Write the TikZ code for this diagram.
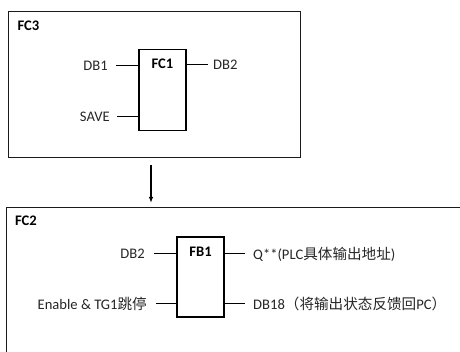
\documentclass[tikz,border=0pt]{standalone}
\usepackage{fontspec}
\setmainfont{Carlito}
\newfontfamily\cjk{Noto Sans CJK SC}
\usetikzlibrary{arrows.meta, positioning}
\definecolor{pintext}{HTML}{262626}
\definecolor{frameline}{HTML}{1A1A1A}

\begin{document}
\begin{tikzpicture}[x=1pt, y=-1pt,
    framebox/.style={rectangle, draw=frameline, line width=1pt, inner sep=0pt},
    blockbox/.style={rectangle, draw=black, line width=1.6pt, inner sep=0pt, minimum width=47pt, minimum height=81pt},
    pinlabel/.style={text=pintext, inner sep=0pt},
    pinline/.style={draw=black, line width=1pt},
    every node/.style={font=\fontsize{14.6}{16}\selectfont}
]
\useasboundingbox (0,0) rectangle (460,352);
\clip (0,0) rectangle (460,352);

% Upper frame
\node[framebox, minimum width=292pt, minimum height=146pt] (fcthree) at (154,85) {};
\node[font=\fontsize{14.6}{16}\selectfont\bfseries, anchor=north west] (fcthreetitle) at (14,17.5) {FC3};

% FC1 block
\node[blockbox] (fcone) at (162.5,90) {};
\node[font=\fontsize{14.6}{16}\selectfont\bfseries, anchor=north] (fconetitle) at ([yshift=-7pt]fcone.north) {FC1};

\coordinate (fconeinA) at (fcone.west |- 0,66);
\coordinate (fconeinB) at (fcone.west |- 0,117);
\coordinate (fconeout) at (fcone.east |- 0,65);

\node[pinlabel, anchor=east] (dbone) at (108,66) {DB1};
\node[pinlabel, anchor=east] (save) at (110,117) {SAVE};
\node[pinlabel, anchor=west] (dbtwoout) at (213,65) {DB2};

\draw[pinline] (fconeinA) -- ++(-22,0);
\draw[pinline] (fconeinB) -- ++(-21,0);
\draw[pinline] (fconeout) -- ++(21,0);

% Lower frame
\node[framebox, minimum width=470pt, minimum height=170pt, anchor=north west] (fctwo) at (6,207) {};
\node[font=\fontsize{14.6}{16}\selectfont\bfseries, anchor=north west] (fctwotitle) at (11.5,212.5) {FC2};

% Arrow between frames
\draw[-{Latex[length=6pt,width=4.5pt]}, line width=1.2pt] ([xshift=-3pt,yshift=-7pt]fcthree.south) -- ([xshift=-3pt,yshift=4pt]fcthree.south |- fctwo.north);

% FB1 block
\node[blockbox, minimum height=80pt] (fbone) at (200.5,277) {};
\node[font=\fontsize{14.6}{16}\selectfont\bfseries, anchor=north] (fbonetitle) at ([yshift=-7pt]fbone.north) {FB1};

\coordinate (fboneinA) at (fbone.west |- 0,254);
\coordinate (fboneinB) at (fbone.west |- 0,304);
\coordinate (fboneoutA) at (fbone.east |- 0,254);
\coordinate (fboneoutB) at (fbone.east |- 0,304);

\node[pinlabel, anchor=east] (dbtwo) at (145,254) {DB2};
\node[pinlabel, anchor=east] (enable) at (147,304) {Enable \& TG1{\cjk 跳停}};
\node[pinlabel, anchor=west] (qout) at (253,254) {Q**(PLC{\cjk 具体输出地址})};
\node[pinlabel, anchor=west] (dbeighteen) at (253,304) {DB18{\cjk （将输出状态反馈回}PC{\cjk ）}};

\draw[pinline] (fboneinA) -- ++(-22,0);
\draw[pinline] (fboneinB) -- ++(-20,0);
\draw[pinline] (fboneoutA) -- ++(20,0);
\draw[pinline] (fboneoutB) -- ++(20,0);

\end{tikzpicture}
\end{document}
